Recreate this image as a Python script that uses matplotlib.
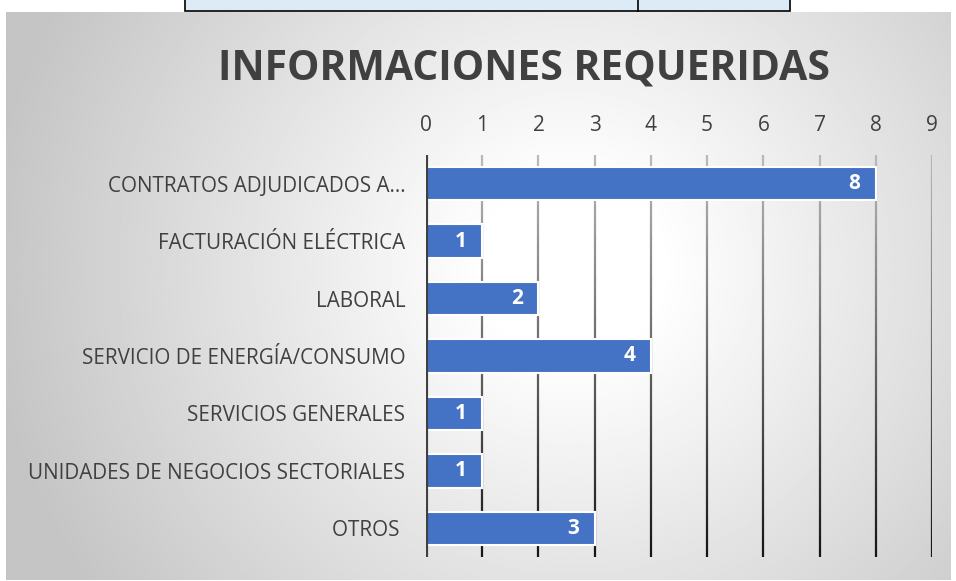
import matplotlib.pyplot as plt
import numpy as np
from matplotlib.collections import LineCollection
from matplotlib.patches import Rectangle

categorias = [
    "CONTRATOS ADJUDICADOS A...",
    "FACTURACIÓN ELÉCTRICA",
    "LABORAL",
    "SERVICIO DE ENERGÍA/CONSUMO",
    "SERVICIOS GENERALES",
    "UNIDADES DE NEGOCIOS SECTORIALES",
    "OTROS ",
]
valores = [8, 1, 2, 4, 1, 1, 3]
ticks_x = list(range(0, 10))

titulo = "INFORMACIONES REQUERIDAS"

W, H = 956, 581
fig = plt.figure(figsize=(W / 100, H / 100), dpi=100)
fig.patch.set_facecolor("white")

# chart area with radial gradient background (px coords: x 6..950, y 12..580)
cx0, cx1, cy0, cy1 = 6, 950, 12, 580
bg = fig.add_axes([cx0 / W, 1 - cy1 / H, (cx1 - cx0) / W, (cy1 - cy0) / H])
bg.set_axis_off()
gx, gy = np.meshgrid(np.linspace(0, 1, 400), np.linspace(0, 1, 300))
d = np.sqrt(((gx - 0.6) * 1.6) ** 2 + ((gy - 0.45) * 1.0) ** 2)
shade = 1 - 0.23 * np.clip((d - 0.15) / 0.85, 0, 1)
bg.imshow(shade, cmap="gray", vmin=0, vmax=1, aspect="auto",
          extent=[0, 1, 0, 1], interpolation="bilinear")
bg.set_xlim(0, 1)
bg.set_ylim(0, 1)

# table fragment at the top
fig.patches.append(Rectangle((185 / W, 1 - 11 / H), (790 - 185) / W, 12 / H,
                             transform=fig.transFigure, facecolor="#ddebf7",
                             edgecolor="black", lw=1.2, zorder=5))
fig.lines.append(plt.Line2D([638 / W, 638 / W], [1 - 11 / H, 1], transform=fig.transFigure,
                            color="black", lw=1.2, zorder=6))

# main axes: x 0 at px 426, 9 at px 932 ; y from 155 to 557
ax_l, ax_r, ax_t, ax_b = 426, 932, 155, 557
ax = fig.add_axes([ax_l / W, 1 - ax_b / H, (ax_r - ax_l) / W, (ax_b - ax_t) / H])
ax.patch.set_alpha(0)

n = len(categorias)
ypos = np.arange(n)
ax.set_xlim(0, 9)
ax.set_ylim(n - 0.5, -0.5)

# gridlines with a vertical gray-to-black gradient
segs, cols = [], []
steps = 40
ys = np.linspace(-0.5, n - 0.5, steps + 1)
for t in ticks_x[1:]:
    for i in range(steps):
        segs.append([(t, ys[i]), (t, ys[i + 1])])
        g = 0.72 - 0.65 * (i / steps)
        cols.append((g, g, g))
ax.add_collection(LineCollection(segs, colors=cols, linewidths=1.6, zorder=1))

ax.barh(ypos, valores, height=0.58, color="#4472c4", edgecolor="white",
        linewidth=1.5, zorder=2)
for y, v in zip(ypos, valores):
    ax.text(v - 0.28, y, str(v), ha="right", va="center", color="white",
            fontsize=15, fontweight="bold", family="Open Sans", zorder=3)

ax.axvline(0, color="#404040", lw=3, zorder=4)

ax.xaxis.tick_top()
ax.set_xticks(ticks_x)
ax.set_xticklabels([str(t) for t in ticks_x], fontsize=15, color="#404040",
                   family="Open Sans")
ax.tick_params(axis="x", length=0, pad=14)
ax.set_yticks(ypos)
ax.set_yticklabels(categorias, fontsize=14.9, color="#404040", family="Open Sans")
ax.tick_params(axis="y", length=0, pad=15)
for s in ax.spines.values():
    s.set_visible(False)

# title, fitted to the reference width (px 218..830)
tt = fig.text(524 / W, 1 - 80 / H, titulo, ha="center", va="baseline",
              fontsize=30, fontweight="bold", color="#404040", family="Open Sans")
fig.canvas.draw()
wpx = tt.get_window_extent().width
tt.set_fontsize(30 * 612 / wpx)

fig.savefig("out.png", dpi=100)
